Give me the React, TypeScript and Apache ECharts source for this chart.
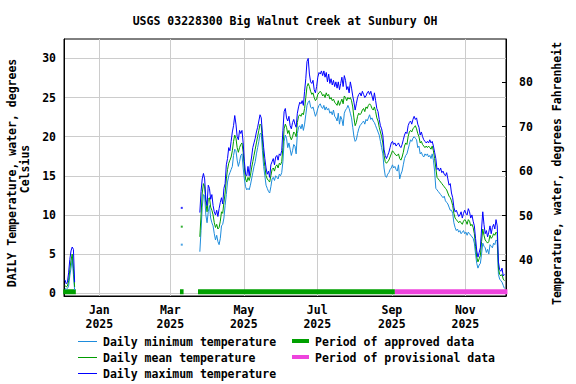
import React, { useEffect, useRef } from 'react';
import * as echarts from 'echarts';

const DAY = 86400000;
const FONT = '"DejaVu Sans Mono", "Liberation Mono", monospace';
const FONT_SIZE = 11.5;

const titleText = 'USGS 03228300 Big Walnut Creek at Sunbury OH';
const leftTitleLine1 = 'DAILY Temperature, water, degrees';
const leftTitleLine2 = 'Celsius';
const rightTitle = 'Temperature, water, degrees Fahrenheit';

const monthTicks = ['2025-01-01', '2025-03-01', '2025-05-01', '2025-07-01', '2025-09-01', '2025-11-01'];
const monthNames = ['Jan', 'Feb', 'Mar', 'Apr', 'May', 'Jun', 'Jul', 'Aug', 'Sep', 'Oct', 'Nov', 'Dec'];
const celsiusTicks = [0, 5, 10, 15, 20, 25, 30];
const fahrenheitTicks = [40, 50, 60, 70, 80];

const xRange = ['2024-12-02T16:20:00Z', '2025-12-04T19:00:00Z'];
const celsiusRange = [-0.36, 32.48];
const fahrenheitRange = [31.9, 89.75];

const legendNames = [
  'Daily minimum temperature',
  'Daily mean temperature',
  'Daily maximum temperature',
  'Period of approved data',
  'Period of provisional data',
];

// December 2024 segment (daily values starting 2024-12-03)
const decStart = '2024-12-03';
const decMax = [1.7, 1.2, 1.4, 2.6, 4.3, 5.4, 5.9, 5.6, 1.4];
const decMean = [1.0, 0.8, 0.9, 1.6, 3.0, 4.2, 5.0, 3.2, 0.8];
const decMin = [0.6, 0.5, 0.6, 0.9, 2.2, 3.2, 4.4, 2.4, 0.4];

// Single isolated day
const isoDate = '2025-03-10';
const isoMax = [10.9];
const isoMean = [8.5];
const isoMin = [6.2];

// Main segment (daily values starting 2025-03-25)
const mainStart = '2025-03-25';
const mainMax = [
  10.3, 13.0, 14.6, 15.3, 14.6, 12.0, 11.2, 13.8, 13.4, 12.0,
  12.6, 11.2, 10.4, 10.0, 10.6, 9.8, 10.8, 11.6, 12.2, 11.4,
  13.4, 14.0, 16.4, 17.2, 18.6, 18.2, 19.4, 20.6, 21.4, 22.7,
  21.6, 20.0, 19.6, 20.8, 20.4, 20.8, 19.2, 16.8, 15.2, 15.0,
  16.2, 15.0, 16.4, 17.4, 18.6, 19.2, 19.8, 20.6, 21.2, 22.0,
  22.8, 22.4, 20.4, 18.6, 17.2, 16.0, 15.2, 15.6, 14.8, 16.4,
  16.8, 17.2, 16.4, 17.4, 17.6, 17.0, 17.8, 17.6, 18.2, 20.8,
  23.2, 23.6, 22.4, 22.0, 22.6, 21.4, 21.0, 21.8, 22.2, 21.6,
  21.2, 23.0, 23.8, 24.4, 24.2, 24.6, 24.0, 25.8, 27.4, 29.6,
  30.0, 28.0, 27.0, 26.8, 27.2, 26.0, 25.6, 26.4, 27.6, 28.2,
  28.0, 28.4, 27.8, 28.4, 27.6, 28.2, 27.0, 28.0, 26.8, 27.4,
  26.6, 27.2, 26.4, 27.0, 26.2, 27.0, 26.0, 26.8, 27.6, 26.4,
  27.8, 27.2, 26.0, 26.4, 25.6, 27.0, 26.2, 25.2, 24.4, 23.4,
  24.2, 25.0, 25.4, 25.6, 25.2, 25.8, 25.4, 25.0, 25.2, 25.6,
  25.8, 25.4, 25.8, 25.2, 24.6, 25.6, 24.6, 23.6, 23.2, 22.2,
  21.4, 21.0, 20.2, 18.4, 17.6, 17.2, 17.6, 18.0, 18.6, 19.2,
  19.4, 19.0, 19.2, 18.8, 19.0, 19.2, 18.8, 18.6, 19.0, 19.6,
  20.2, 20.6, 20.4, 21.4, 21.8, 22.0, 21.6, 22.2, 22.6, 22.2,
  22.4, 21.6, 21.2, 20.2, 20.6, 20.0, 19.6, 19.4, 19.2, 19.4,
  19.2, 19.6, 19.2, 19.4, 18.8, 18.0, 17.2, 15.8, 16.0, 15.6,
  16.0, 15.4, 15.6, 15.2, 15.0, 15.4, 14.6, 13.8, 14.0, 12.8,
  12.2, 11.0, 10.4, 10.6, 10.2, 9.8, 10.0, 10.4, 9.6, 10.2,
  10.6, 10.2, 10.0, 10.8, 10.4, 9.6, 10.0, 9.2, 8.6, 7.0,
  5.4, 4.6, 5.2, 5.8, 8.2, 10.4, 8.8, 7.6, 8.0, 7.2,
  7.8, 8.6, 7.6, 8.4, 8.8, 8.2, 9.4, 8.6, 4.0, 3.0,
  2.8, 3.2, 2.2, 2.4,
];
const mainMean = [
  7.2, 10.0, 12.8, 14.0, 13.6, 11.6, 10.4, 12.0, 12.2, 11.0,
  10.6, 10.0, 9.0, 8.4, 8.8, 8.2, 8.4, 9.2, 10.4, 10.2,
  11.6, 12.8, 14.6, 15.8, 16.6, 17.0, 17.4, 18.2, 19.4, 20.2,
  19.8, 18.6, 18.0, 18.6, 19.0, 19.2, 18.0, 16.0, 14.6, 14.2,
  14.8, 14.4, 15.0, 16.0, 16.8, 17.6, 18.4, 19.2, 20.0, 20.8,
  21.6, 21.4, 19.6, 17.4, 16.2, 15.0, 14.6, 14.4, 14.2, 15.0,
  15.8, 16.0, 15.6, 16.2, 16.4, 16.0, 16.6, 16.4, 16.8, 18.6,
  21.0, 21.6, 21.2, 20.4, 20.8, 20.0, 19.6, 20.0, 20.6, 20.4,
  20.0, 21.8, 22.6, 22.8, 22.6, 23.0, 22.8, 23.6, 25.0, 26.4,
  26.8, 26.4, 25.8, 25.4, 25.6, 25.0, 24.6, 24.8, 25.4, 25.6,
  25.8, 25.6, 25.2, 25.4, 25.0, 25.6, 25.2, 25.4, 24.8, 25.0,
  24.6, 24.8, 24.4, 24.2, 24.0, 24.6, 24.0, 24.4, 24.8, 24.2,
  25.2, 25.0, 24.6, 25.0, 24.8, 25.0, 24.6, 23.8, 22.4, 21.4,
  21.8, 22.6, 23.0, 22.8, 23.0, 23.4, 23.6, 23.2, 23.8, 23.6,
  24.0, 24.2, 24.0, 23.6, 23.4, 23.8, 23.2, 22.4, 22.0, 21.2,
  20.6, 20.0, 19.2, 17.6, 16.8, 16.6, 16.8, 17.0, 17.4, 17.8,
  18.2, 18.0, 17.8, 17.6, 17.6, 17.8, 17.2, 17.0, 17.4, 18.0,
  18.8, 19.2, 19.0, 20.0, 20.6, 20.8, 20.6, 21.0, 21.2, 21.4,
  21.0, 20.4, 20.0, 19.2, 19.4, 19.0, 18.8, 18.6, 18.8, 18.6,
  18.8, 18.6, 18.4, 18.8, 18.2, 17.2, 16.0, 14.8, 14.6, 14.4,
  14.2, 14.0, 13.8, 13.6, 13.4, 13.2, 12.8, 12.4, 12.2, 11.8,
  11.2, 10.2, 9.6, 9.4, 9.2, 9.0, 9.2, 9.0, 8.8, 9.2,
  9.4, 9.2, 8.8, 9.4, 9.2, 8.6, 8.8, 8.4, 7.6, 6.0,
  4.6, 4.0, 4.4, 4.8, 6.6, 8.2, 7.4, 6.8, 6.6, 6.4,
  6.6, 7.4, 7.0, 7.2, 7.6, 7.4, 7.8, 7.6, 3.2, 2.4,
  2.2, 2.4, 1.8, 1.6,
];
const mainMin = [
  5.3, 8.0, 11.0, 12.6, 12.4, 10.0, 9.0, 10.4, 11.2, 9.6,
  9.0, 8.6, 7.6, 6.8, 7.4, 6.6, 6.2, 7.0, 8.6, 8.8,
  9.6, 11.2, 12.6, 14.2, 15.0, 15.4, 15.8, 16.2, 17.6, 18.4,
  18.2, 17.0, 16.2, 16.8, 17.6, 17.8, 16.0, 14.6, 13.6, 13.2,
  13.4, 13.2, 13.8, 14.6, 15.4, 16.2, 16.8, 17.8, 18.6, 19.4,
  20.4, 20.4, 18.2, 16.2, 15.0, 13.8, 13.4, 13.0, 12.8, 13.6,
  14.6, 14.8, 14.4, 15.0, 14.8, 14.6, 15.2, 15.0, 15.4, 16.8,
  19.4, 20.2, 19.8, 18.6, 19.2, 18.4, 17.6, 18.2, 19.0, 18.8,
  17.8, 20.4, 21.2, 21.4, 21.0, 21.6, 20.8, 21.6, 22.8, 24.0,
  24.4, 24.6, 23.8, 23.6, 23.8, 23.2, 22.6, 23.0, 23.6, 24.0,
  24.2, 23.8, 23.6, 24.0, 23.4, 23.8, 23.4, 23.6, 23.0, 23.2,
  22.8, 23.4, 22.6, 22.4, 22.0, 23.0, 21.6, 22.6, 22.2, 21.4,
  23.0, 23.4, 23.6, 24.0, 23.6, 23.0, 22.4, 21.2, 20.0, 19.4,
  19.6, 20.4, 21.0, 21.4, 21.6, 21.8, 22.0, 21.6, 22.2, 22.0,
  22.4, 22.8, 22.2, 22.4, 22.0, 21.8, 21.4, 21.0, 20.6, 20.2,
  19.4, 18.6, 17.8, 16.0, 15.0, 14.8, 15.2, 15.4, 15.8, 16.0,
  16.4, 16.0, 16.2, 15.8, 15.6, 16.4, 14.6, 15.2, 15.6, 16.4,
  17.2, 17.6, 17.8, 18.4, 19.0, 19.6, 19.4, 19.8, 20.0, 19.8,
  19.6, 18.6, 18.8, 17.8, 18.0, 17.6, 17.4, 17.8, 17.6, 17.8,
  17.4, 17.6, 17.2, 17.8, 17.0, 15.6, 13.4, 13.2, 13.0, 12.8,
  12.6, 12.4, 12.2, 12.4, 11.8, 11.6, 11.4, 11.0, 10.6, 10.6,
  10.2, 9.0, 8.4, 8.0, 8.2, 7.8, 8.0, 7.6, 7.8, 8.0,
  7.6, 7.8, 7.4, 7.8, 7.6, 7.4, 7.2, 7.0, 6.4, 5.0,
  3.8, 3.2, 3.6, 3.8, 5.0, 6.4, 6.0, 5.8, 5.2, 5.6,
  5.0, 6.2, 6.0, 5.8, 6.4, 6.2, 6.8, 6.6, 2.4, 1.8,
  1.6, 1.4, 1.0, 0.6,
];

const approvedPeriods = [
  ['2024-12-02T00:00:00Z', '2024-12-12T12:00:00Z'],
  ['2025-03-09T00:00:00Z', '2025-03-12T00:00:00Z'],
  ['2025-03-24T00:00:00Z', '2025-09-03T12:00:00Z'],
];
const provisionalPeriods = [['2025-09-03T12:00:00Z', '2025-12-06T00:00:00Z']];
const periodLevel = 0.19;

const minColor = '#1e8cdc';
const meanColor = '#009c00';
const maxColor = '#0000ff';
const approvedColor = '#00a000';
const provisionalColor = '#ee44dd';
const gridColor = '#cccccc';

function daily(start: string, vals: number[]) {
  const t0 = Date.parse(start + 'T12:00:00Z');
  return vals.map((v, i) => [t0 + i * DAY, v]);
}

function joinSegments(segs: any[][]) {
  const out: any[] = [];
  segs.forEach((s, i) => {
    if (i > 0) out.push([s[0][0] - DAY / 4, '-']);
    s.forEach((p) => out.push(p));
  });
  return out;
}

function periodData(periods: string[][]) {
  const out: any[] = [];
  periods.forEach((p, i) => {
    const a = Date.parse(p[0]);
    const b = Date.parse(p[1]);
    if (i > 0) out.push([a - 1000, '-']);
    out.push([a, periodLevel]);
    out.push([b, periodLevel]);
  });
  return out;
}

const textStyleBase = {
  fontFamily: FONT,
  fontSize: FONT_SIZE,
  fontWeight: 'bold' as const,
  color: '#000',
};
const gFont = `bold ${FONT_SIZE}px ${FONT}`;

function buildOption(): any {
  const monthTs = monthTicks.map((m) => Date.parse(m + 'T00:00:00Z'));
  const lineSeries = (name: string, color: string, dec: number[], main: number[]) => ({
    name,
    type: 'line',
    yAxisIndex: 0,
    showSymbol: false,
    symbol: 'none',
    connectNulls: false,
    lineStyle: { color, width: 1 },
    itemStyle: { color },
    data: joinSegments([daily(decStart, dec), daily(mainStart, main)]),
    z: 3,
  });
  const isoSeries = (name: string, color: string, vals: number[]) => ({
    name,
    type: 'scatter',
    yAxisIndex: 0,
    symbol: 'rect',
    symbolSize: 2,
    itemStyle: { color },
    data: daily(isoDate, vals),
    z: 3,
  });
  const periodSeries = (name: string, color: string, periods: string[][]) => ({
    name,
    type: 'line',
    yAxisIndex: 0,
    showSymbol: false,
    symbol: 'none',
    lineStyle: { color, width: 5, cap: 'butt' },
    itemStyle: { color },
    data: periodData(periods),
    z: 2,
  });

  const legendRows = [
    { name: legendNames[0], color: minColor, x: 78, y: 341, thick: false },
    { name: legendNames[1], color: meanColor, x: 78, y: 357, thick: false },
    { name: legendNames[2], color: maxColor, x: 78, y: 373, thick: false },
    { name: legendNames[3], color: approvedColor, x: 292, y: 341, thick: true },
    { name: legendNames[4], color: provisionalColor, x: 292, y: 357, thick: true },
  ];
  const legendGraphics: any[] = [];
  legendRows.forEach((r) => {
    legendGraphics.push({
      type: 'rect',
      shape: r.thick
        ? { x: r.x, y: r.y - 2, width: 17, height: 4 }
        : { x: r.x, y: r.y, width: 19, height: 1 },
      style: { fill: r.color, stroke: null },
    });
    legendGraphics.push({
      type: 'text',
      x: r.x + (r.thick ? 23 : 25),
      y: r.y + 0.5,
      style: { text: r.name, font: gFont, fill: '#000', align: 'left', verticalAlign: 'middle' },
    });
  });

  return {
    animation: false,
    backgroundColor: '#fff',
    grid: {
      left: 64,
      right: 70,
      top: 39,
      bottom: 88,
      show: true,
      borderColor: '#000',
      borderWidth: 1,
      containLabel: false,
    },
    xAxis: {
      type: 'value',
      min: Date.parse(xRange[0]),
      max: Date.parse(xRange[1]),
      axisLine: { show: true, onZero: false, lineStyle: { color: '#000', width: 1 } },
      axisTick: { show: false, customValues: monthTs },
      axisLabel: {
        ...textStyleBase,
        customValues: monthTs,
        margin: 7.4,
        lineHeight: 13.5,
        hideOverlap: false,
        formatter: (v: number) => {
          const d = new Date(v);
          return monthNames[d.getUTCMonth()] + '\n' + d.getUTCFullYear();
        },
      },
      splitLine: { show: true, lineStyle: { color: gridColor, width: 1 } },
    },
    yAxis: [
      {
        type: 'value',
        position: 'left',
        min: celsiusRange[0],
        max: celsiusRange[1],
        axisLine: { show: true, lineStyle: { color: '#000', width: 1 } },
        axisTick: { show: false, customValues: celsiusTicks },
        axisLabel: { ...textStyleBase, customValues: celsiusTicks, margin: 8 },
        splitLine: { show: true, lineStyle: { color: gridColor, width: 1 } },
      },
      {
        type: 'value',
        position: 'right',
        min: fahrenheitRange[0],
        max: fahrenheitRange[1],
        alignTicks: false,
        axisLine: { show: true, lineStyle: { color: '#000', width: 1 } },
        axisTick: {
          show: true,
          inside: true,
          length: 4,
          customValues: fahrenheitTicks,
          lineStyle: { color: '#000', width: 1 },
        },
        axisLabel: { ...textStyleBase, customValues: fahrenheitTicks, margin: 13 },
        splitLine: { show: false },
      },
    ],
    series: [
      periodSeries(legendNames[3], approvedColor, approvedPeriods),
      periodSeries(legendNames[4], provisionalColor, provisionalPeriods),
      lineSeries(legendNames[0], minColor, decMin, mainMin),
      lineSeries(legendNames[1], meanColor, decMean, mainMean),
      lineSeries(legendNames[2], maxColor, decMax, mainMax),
      isoSeries(legendNames[0], minColor, isoMin),
      isoSeries(legendNames[1], meanColor, isoMean),
      isoSeries(legendNames[2], maxColor, isoMax),
    ],
    graphic: [
      {
        type: 'text',
        x: 285,
        y: 20.5,
        style: { text: titleText, font: gFont, fill: '#000', align: 'center', verticalAlign: 'middle' },
      },
      {
        type: 'text',
        x: 12,
        y: 173,
        rotation: Math.PI / 2,
        style: { text: leftTitleLine1, font: gFont, fill: '#000', align: 'center', verticalAlign: 'middle' },
      },
      {
        type: 'text',
        x: 24.5,
        y: 169,
        rotation: Math.PI / 2,
        style: { text: leftTitleLine2, font: gFont, fill: '#000', align: 'center', verticalAlign: 'middle' },
      },
      {
        type: 'text',
        x: 557,
        y: 173.5,
        rotation: Math.PI / 2,
        style: { text: rightTitle, font: gFont, fill: '#000', align: 'center', verticalAlign: 'middle' },
      },
      ...legendGraphics,
    ],
  };
}

export default function App() {
  const ref = useRef<HTMLDivElement>(null);
  useEffect(() => {
    document.body.style.margin = '0';
    if (!ref.current) return;
    const chart = echarts.init(ref.current, null, { renderer: 'svg' });
    chart.setOption(buildOption());
    return () => {
      chart.dispose();
    };
  }, []);
  return <div ref={ref} style={{ width: 576, height: 384 }} />;
}
